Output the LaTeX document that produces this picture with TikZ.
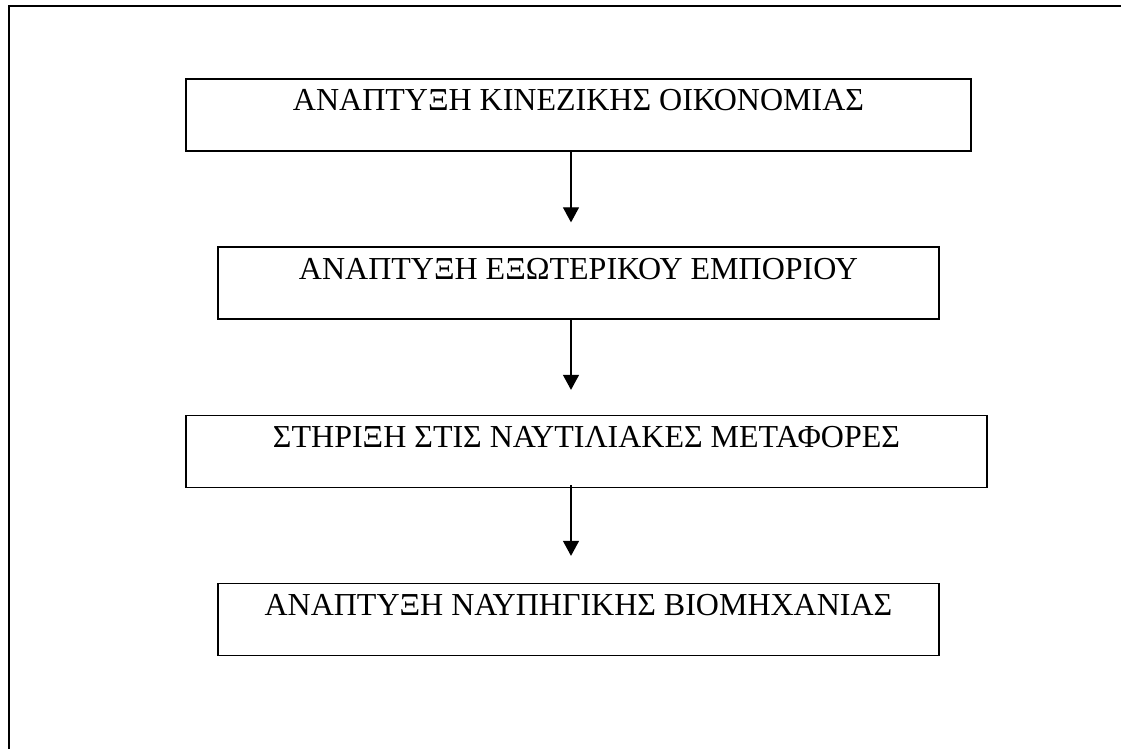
\documentclass[tikz,border=0pt]{standalone}
\usepackage{fontspec}
\setmainfont{Liberation Serif}
\usetikzlibrary{arrows.meta}
\begin{document}
\begin{tikzpicture}[x=1pt,y=-1pt,
  stepbox/.style={draw=black,line width=1.3pt,inner sep=0pt,
    text height=32pt,text depth=40pt,font=\fontsize{32}{36}\selectfont},
  arr/.style={draw=black,line width=1.2pt,-{Triangle[width=16pt,length=15pt]}},
  frame/.style={draw=black,line width=2.4pt}]
\useasboundingbox (0,0) rectangle (1121,749);
\draw[frame] (9,749) -- (9,6) -- (1121,6);
\coordinate (axis) at (571,0);
\node[stepbox,minimum width=785pt] (b1) at (578.5,115) {ΑΝΑΠΤΥΞΗ ΚΙΝΕΖΙΚΗΣ ΟΙΚΟΝΟΜΙΑΣ};
\node[stepbox,minimum width=721pt] (b2) at (578.5,283) {ΑΝΑΠΤΥΞΗ ΕΞΩΤΕΡΙΚΟΥ ΕΜΠΟΡΙΟΥ};
\node[stepbox,minimum width=801pt] (b3) at (586.5,451.5) {ΣΤΗΡΙΞΗ ΣΤΙΣ ΝΑΥΤΙΛΙΑΚΕΣ ΜΕΤΑΦΟΡΕΣ};
\node[stepbox,minimum width=721pt] (b4) at (578.5,619.5) {ΑΝΑΠΤΥΞΗ ΝΑΥΠΗΓΙΚΗΣ ΒΙΟΜΗΧΑΝΙΑΣ};
\draw[arr,shorten >=24pt] (b1.south -| axis) -- (b2.north -| axis);
\draw[arr,shorten >=25pt] (b2.south -| axis) -- (b3.north -| axis);
\draw[arr,shorten <=-3pt,shorten >=27pt] (b3.south -| axis) -- (b4.north -| axis);
\end{tikzpicture}
\end{document}
